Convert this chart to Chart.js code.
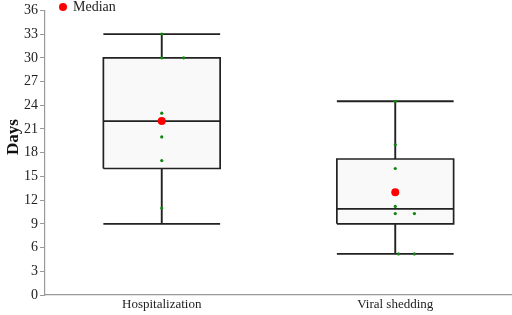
<!DOCTYPE html>
<html>
<head>
<meta charset="utf-8">
<script src="https://cdn.jsdelivr.net/npm/chart.js@4.4.0/dist/chart.umd.min.js"></script>
<style>
  html, body { margin: 0; padding: 0; background: #fff; }
  #wrap { width: 512px; height: 315px; }
</style>
</head>
<body>
<div id="wrap"><canvas id="boxChart"></canvas></div>
<script>
// data
var categories = ['Hospitalization', 'Viral shedding'];
var whiskerMin = [9, 5.2];
var boxQ1 = [16, 9];
var boxMedian = [22, 10.9];
var boxQ3 = [30, 17.2];
var whiskerMax = [33, 24.5];
var medianDot = [22, 13];

var hospPoints = [33, 30, 30, 23, 20, 17, 11];
var hospJitter = [0, 0, 0.094, 0, 0, 0, 0];
var viralPoints = [24.5, 19, 16, 11.2, 10.3, 10.3, 5.2, 5.2];
var viralJitter = [0, 0, 0, 0, 0, 0.082, 0.014, 0.082];

var yTicks = [0, 3, 6, 9, 12, 15, 18, 21, 24, 27, 30, 33, 36];

var serif = "'Liberation Serif', 'Times New Roman', serif";
var ink = '#222';
var half = 0.25;

function boxShape(i) {
  var c = i + 0.5;
  return [
    {x: c - half, y: boxQ1[i]}, {x: c + half, y: boxQ1[i]},
    {x: c + half, y: boxQ3[i]}, {x: c - half, y: boxQ3[i]},
    {x: c - half, y: boxQ1[i]}
  ];
}

function whiskers(i) {
  var c = i + 0.5;
  var gap = {x: c, y: null};
  return [
    {x: c, y: whiskerMax[i]}, {x: c, y: boxQ3[i]}, gap,
    {x: c, y: boxQ1[i]}, {x: c, y: whiskerMin[i]}, gap,
    {x: c - half, y: whiskerMax[i]}, {x: c + half, y: whiskerMax[i]}, gap,
    {x: c - half, y: whiskerMin[i]}, {x: c + half, y: whiskerMin[i]}, gap,
    {x: c - half, y: boxMedian[i]}, {x: c + half, y: boxMedian[i]}
  ];
}

function pts(vals, jit, i) {
  return vals.map(function (v, k) { return {x: i + 0.5 + jit[k], y: v}; });
}

var datasets = [];
categories.forEach(function (cat, i) {
  datasets.push({
    label: cat + ' box', data: boxShape(i), showLine: true, fill: 'shape',
    backgroundColor: '#f9f9f9', borderColor: ink, borderWidth: 1.7,
    pointRadius: 0, order: 5
  });
  datasets.push({
    label: cat + ' whiskers', data: whiskers(i), showLine: true, spanGaps: false,
    borderColor: ink, borderWidth: 1.9, pointRadius: 0, order: 4
  });
});
datasets.push({
  label: 'points', order: 2, pointRadius: 1.6, pointBackgroundColor: '#0f850f',
  pointBorderWidth: 0,
  data: pts(hospPoints, hospJitter, 0).concat(pts(viralPoints, viralJitter, 1))
});
datasets.push({
  label: 'Median', order: 1, pointRadius: 4, pointBackgroundColor: '#ff0000',
  pointBorderWidth: 0,
  data: medianDot.map(function (v, i) { return {x: i + 0.5, y: v}; })
});

// legend and axis title, placed like the original figure
var extraText = {
  id: 'extraText',
  afterDraw: function (chart) {
    var c = chart.ctx, a = chart.chartArea;
    c.save();
    c.fillStyle = '#ff0000';
    c.beginPath();
    c.arc(a.left + 18, 7, 4, 0, Math.PI * 2);
    c.fill();
    c.fillStyle = ink;
    c.font = '14px ' + serif;
    c.textBaseline = 'middle';
    c.fillText('Median', a.left + 28, 7.5);

    c.translate(14, 137);
    c.rotate(-Math.PI / 2);
    c.textAlign = 'center';
    c.fillStyle = '#111';
    c.font = 'bold 17px ' + serif;
    c.fillText('Days', 0, 0);
    c.restore();
  }
};

new Chart(document.getElementById('boxChart'), {
  type: 'scatter',
  data: { datasets: datasets },
  plugins: [extraText],
  options: {
    responsive: true,
    maintainAspectRatio: false,
    animation: false,
    layout: { autoPadding: false, padding: { top: 10, right: 0, left: 0, bottom: 0 } },
    plugins: { legend: { display: false }, tooltip: { enabled: false } },
    scales: {
      x: {
        type: 'linear', min: 0, max: 2,
        afterBuildTicks: function (s) { s.ticks = [{value: 0.5}, {value: 1.5}]; },
        afterFit: function (s) { s.height = 20; },
        ticks: {
          callback: function (v) { return categories[Math.round(v - 0.5)]; },
          color: ink, font: { family: serif, size: 13 }, padding: 2
        },
        grid: { display: false, drawTicks: false },
        border: { color: '#999', width: 1.2 }
      },
      y: {
        min: 0, max: 36,
        afterBuildTicks: function (s) { s.ticks = yTicks.map(function (v) { return {value: v}; }); },
        afterFit: function (s) { s.width = 45; },
        ticks: { color: ink, font: { family: serif, size: 14 }, padding: 2 },
        grid: { drawOnChartArea: false, drawTicks: true, tickLength: 5, color: '#999' },
        border: { color: '#999', width: 1.2 }
      }
    }
  }
});
</script>
</body>
</html>
